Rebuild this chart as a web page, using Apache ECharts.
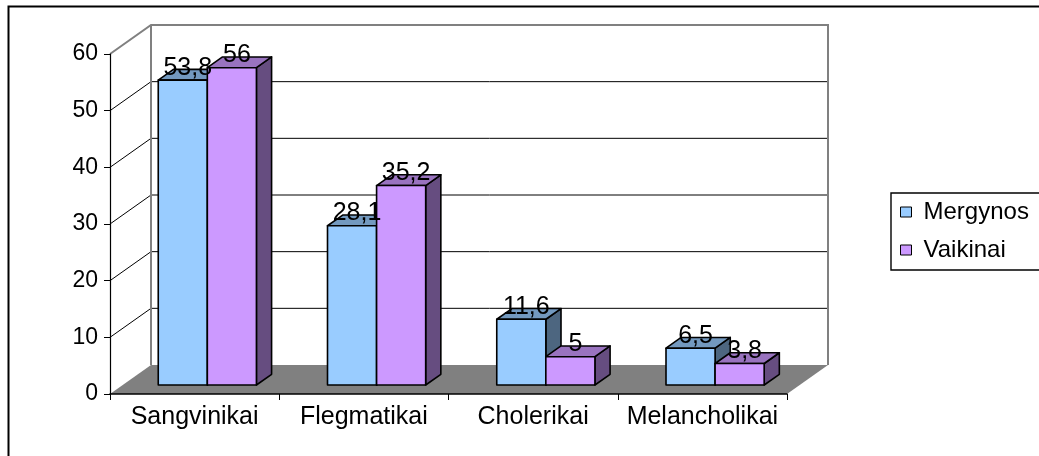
<!DOCTYPE html>
<html>
<head>
<meta charset="utf-8">
<script src="https://cdn.jsdelivr.net/npm/echarts@6/dist/echarts.min.js"></script>
<style>html,body{margin:0;padding:0;background:#fff}#c{width:1039px;height:456px}</style>
</head>
<body>
<div id="c"></div>
<script>
const categories = ['Sangvinikai', 'Flegmatikai', 'Cholerikai', 'Melancholikai'];
const seriesNames = ['Mergynos', 'Vaikinai'];
const mergynos = [53.8, 28.1, 11.6, 6.5];
const vaikinai = [56, 35.2, 5, 3.8];
const yTicks = [0, 10, 20, 30, 40, 50, 60];

const FONT = '"Liberation Sans", Arial, sans-serif';
const DX = 41, DY = -29;      // depth vector of the 3D box
const F0 = 0.31, F1 = 0.68;   // bar depth range (fraction of box depth)
const BAR_FRAC = 0.29;        // bar width / category width
const faceColors = [
  { front: '#99CCFF', top: '#7399BF', side: '#4D6680' },
  { front: '#CC99FF', top: '#9973BF', side: '#664D80' }
];

function renderFrame(params, api) {
  const cs = params.coordSys;
  const L = cs.x, R = cs.x + cs.width, T = cs.y, B = cs.y + cs.height;
  const ch = [];
  ch.push({ type: 'rect', shape: { x: L + DX, y: T + DY, width: cs.width, height: cs.height }, style: { fill: '#fff' } });
  ch.push({ type: 'polygon', shape: { points: [[L, B], [L, T], [L + DX, T + DY], [L + DX, B + DY]] }, style: { fill: '#fff' } });
  const maxT = yTicks[yTicks.length - 1];
  yTicks.forEach(function (t) {
    if (t === 0 || t === maxT) return;
    const y = api.coord([0, t])[1];
    ch.push({ type: 'polyline', shape: { points: [[L, y], [L + DX, y + DY], [R + DX, y + DY]] }, style: { stroke: '#000', lineWidth: 1, fill: null } });
  });
  ch.push({ type: 'polygon', shape: { points: [[L, B], [R, B], [R + DX, B + DY], [L + DX, B + DY]] }, style: { fill: '#808080' } });
  ch.push({ type: 'polyline', shape: { points: [[L, T], [L + DX, T + DY], [R + DX, T + DY], [R + DX, B + DY]] }, style: { stroke: '#808080', lineWidth: 2, fill: null } });
  ch.push({ type: 'line', shape: { x1: L + DX, y1: T + DY, x2: L + DX, y2: B + DY }, style: { stroke: '#808080', lineWidth: 2 } });
  return { type: 'group', children: ch };
}

function barGeom(api, sIdx, i, v) {
  const base = api.coord([i, 0]);
  const top = api.coord([i, v]);
  const cw = api.size([1, 0])[0];
  const bw = cw * BAR_FRAC;
  const x0 = base[0] + (sIdx === 0 ? -bw : 0) + DX * F0;
  const yTop = top[1] + DY * F0;
  const yBot = base[1] + DY * F0;
  const dx = DX * (F1 - F0), dy = DY * (F1 - F0);
  return { x0: x0, bw: bw, yTop: yTop, yBot: yBot, dx: dx, dy: dy };
}

function makeBarRenderer(sIdx) {
  return function (params, api) {
    const i = api.value(0), v = api.value(1);
    const g = barGeom(api, sIdx, i, v);
    const c = faceColors[sIdx];
    const st = { stroke: '#000', lineWidth: 1.6, lineJoin: 'round' };
    return {
      type: 'group',
      children: [
        { type: 'polygon', shape: { points: [[g.x0 + g.bw, g.yTop], [g.x0 + g.bw + g.dx, g.yTop + g.dy], [g.x0 + g.bw + g.dx, g.yBot + g.dy], [g.x0 + g.bw, g.yBot]] }, style: Object.assign({ fill: c.side }, st) },
        { type: 'polygon', shape: { points: [[g.x0, g.yTop], [g.x0 + g.bw, g.yTop], [g.x0 + g.bw + g.dx, g.yTop + g.dy], [g.x0 + g.dx, g.yTop + g.dy]] }, style: Object.assign({ fill: c.top }, st) },
        { type: 'rect', shape: { x: g.x0, y: g.yTop, width: g.bw, height: g.yBot - g.yTop }, style: Object.assign({ fill: c.front }, st) }
      ]
    };
  };
}

function renderLabel(params, api) {
  const sIdx = api.value(2), i = api.value(0), v = api.value(1);
  const g = barGeom(api, sIdx, i, v);
  return {
    type: 'text',
    style: {
      x: g.x0 + g.bw / 2 + 5, y: g.yTop - 12.5,
      text: String(v).replace('.', ','),
      fill: '#000', font: '25px ' + FONT,
      align: 'center', verticalAlign: 'middle'
    }
  };
}

const labelData = [];
[mergynos, vaikinai].forEach(function (arr, s) {
  arr.forEach(function (v, i) { labelData.push([i, v, s]); });
});

const chart = echarts.init(document.getElementById('c'), null, { renderer: 'canvas' });
chart.setOption({
  animation: false,
  backgroundColor: '#fff',
  textStyle: { fontFamily: FONT },
  grid: { left: 110, top: 54, width: 677, height: 340, containLabel: false, outerBoundsMode: 'none' },
  legend: {
    data: seriesNames,
    orient: 'vertical',
    left: 900, top: 200,
    itemWidth: 11, itemHeight: 10, itemGap: 14,
    icon: 'rect',
    padding: 0,
    selectedMode: false,
    itemStyle: { borderColor: '#000', borderWidth: 1 },
    textStyle: { fontSize: 24, fontFamily: FONT, color: '#000', padding: [0, 0, 0, 7] }
  },
  graphic: [
    { type: 'rect', left: 6, top: 4, shape: { x: 0, y: 0, width: 1100, height: 500 }, style: { fill: null, stroke: '#000', lineWidth: 2 }, silent: true, z: 100 },
    { type: 'rect', shape: { x: 891, y: 193, width: 200, height: 77 }, style: { fill: null, stroke: '#000', lineWidth: 1.4 }, silent: true, z: 100 }
  ],
  xAxis: {
    type: 'category', data: categories,
    axisLine: { show: true, lineStyle: { color: '#000', width: 1.5 } },
    axisTick: { show: true, length: 6, lineStyle: { color: '#000' } },
    axisLabel: { color: '#000', fontSize: 25, fontFamily: FONT, margin: 11, interval: 0 },
    splitLine: { show: false }
  },
  yAxis: {
    type: 'value', min: 0, max: 60, interval: 10,
    axisLine: { show: true, lineStyle: { color: '#000', width: 1.2 } },
    axisTick: { show: true, length: 6, lineStyle: { color: '#000' } },
    axisLabel: { color: '#000', fontSize: 23, fontFamily: FONT, margin: 12, formatter: function (v) { return yTicks.indexOf(v) >= 0 ? String(v) : ''; } },
    splitLine: { show: false }
  },
  series: [
    { type: 'custom', name: 'frame', z: -1, clip: false, silent: true, renderItem: renderFrame, data: [[0, 0]] },
    { type: 'custom', name: seriesNames[0], z: 2, clip: false, itemStyle: { color: faceColors[0].front }, renderItem: makeBarRenderer(0), data: mergynos.map(function (v, i) { return [i, v]; }) },
    { type: 'custom', name: seriesNames[1], z: 3, clip: false, itemStyle: { color: faceColors[1].front }, renderItem: makeBarRenderer(1), data: vaikinai.map(function (v, i) { return [i, v]; }) },
    { type: 'custom', name: 'labels', z: 5, clip: false, silent: true, renderItem: renderLabel, data: labelData }
  ]
});
</script>
</body>
</html>
